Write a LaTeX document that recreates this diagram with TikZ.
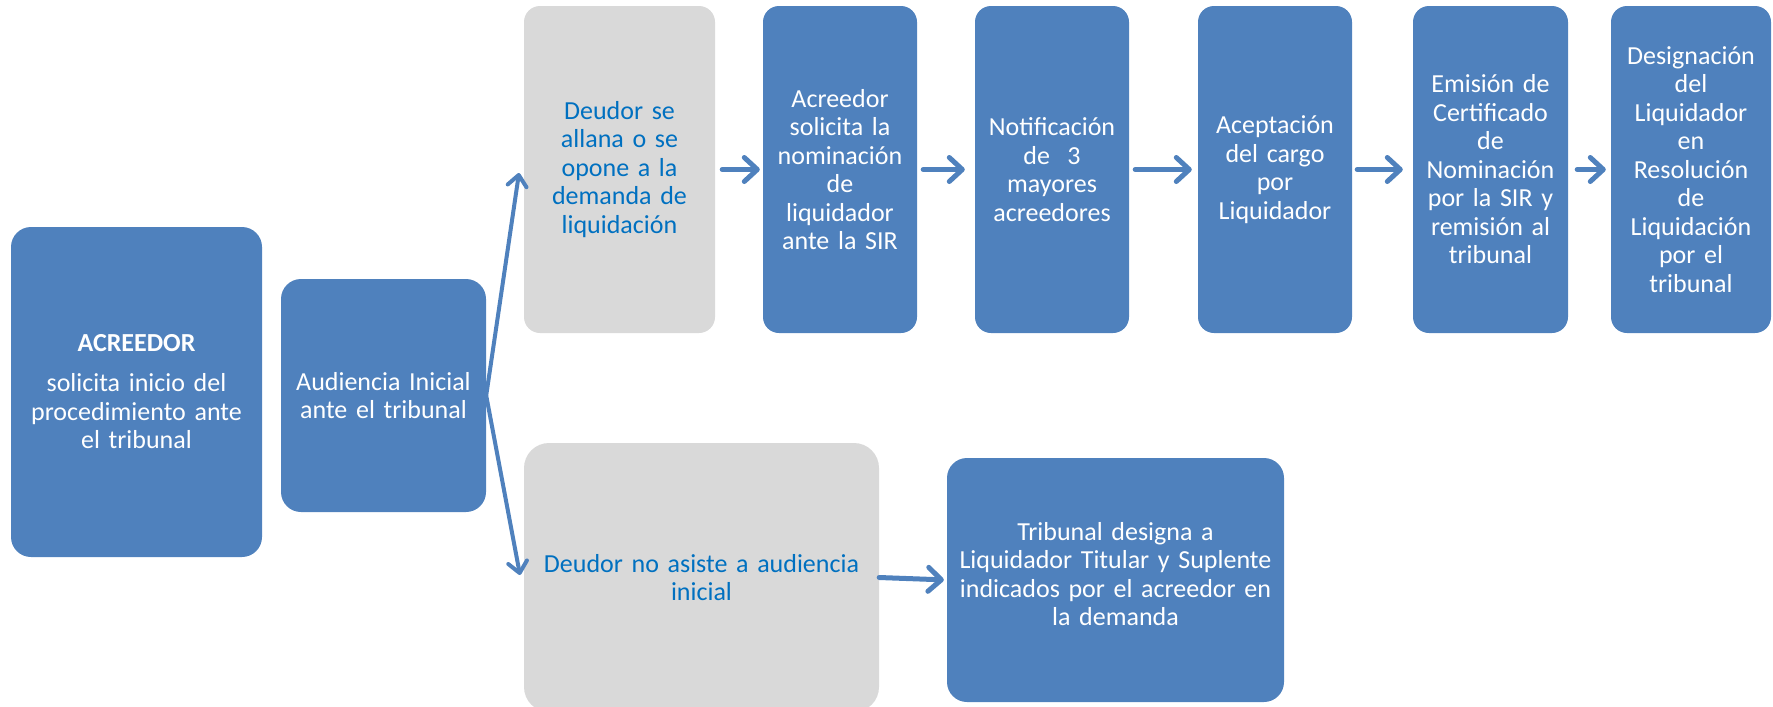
\documentclass[tikz,border=0pt]{standalone}
\usepackage{fontspec}
\setmainfont{Carlito}
\usetikzlibrary{arrows.meta}
\definecolor{boxblue}{HTML}{4F81BD}
\definecolor{boxgray}{HTML}{D9D9D9}
\definecolor{txtblue}{HTML}{0070C0}
\tikzset{
  basebox/.style={inner sep=0pt, align=center, font=\fontsize{26}{28.5}\selectfont},
  bluebox/.style={basebox, fill=boxblue, text=white},
  graybox/.style={basebox, fill=boxgray, text=txtblue},
  toprow/.style={minimum height=327pt, rounded corners=16pt},
  harrow/.style={draw=boxblue, line width=5pt, line cap=round,
    -{Straight Barb[length=13pt,width=24pt,round]}},
  barrow/.style={draw=boxblue, line width=4pt, line cap=round,
    -{Straight Barb[length=11pt,width=19pt,round]}}
}
\begin{document}
\begin{tikzpicture}[x=1pt,y=-1pt]
\useasboundingbox (0,0) rectangle (1773,707);
\clip (0,0) rectangle (1773,707);
% left column
\node[bluebox, rounded corners=20pt, minimum width=251pt, minimum height=330pt, text width=244pt]
  (acr) at (136.5,392) {\textbf{ACREEDOR}\\[11.5pt]solicita inicio del\\procedimiento ante\\el tribunal};
\node[bluebox, rounded corners=20pt, minimum width=205pt, minimum height=233pt, text width=200pt]
  (aud) at (383.5,395.5) {Audiencia Inicial\\ante el tribunal};
% top row
\node[graybox, toprow, minimum width=191pt, text width=184pt]
  (g1) at (619.5,169.5) {Deudor se\\allana o se\\opone a la\\demanda de\\liquidación};
\node[bluebox, toprow, minimum width=154pt, text width=152pt]
  (b2) at (840,169.5) {Acreedor\\solicita la\\nominación\\de\\liquidador\\ante la SIR};
\node[bluebox, toprow, minimum width=154pt, text width=152pt]
  (b3) at (1052,169.5) {Notificación\\de\ \ 3\\mayores\\acreedores};
\node[bluebox, toprow, minimum width=154pt, text width=152pt]
  (b4) at (1275,169.5) {Aceptación\\del cargo\\por\\Liquidador};
\node[bluebox, toprow, minimum width=155pt, text width=152pt]
  (b5) at (1490.5,169.5) {Emisión de\\Certificado\\de\\Nominación\\por la SIR y\\remisión al\\tribunal};
\node[bluebox, toprow, minimum width=160pt, text width=158pt]
  (b6) at (1691,169.5) {Designación\\del\\Liquidador\\en\\Resolución\\de\\Liquidación\\por el\\tribunal};
% bottom row
\node[graybox, rounded corners=25pt, minimum width=355pt, minimum height=269pt, text width=348pt]
  (g2) at (701.5,577.5) {Deudor no asiste a audiencia\\inicial};
\node[bluebox, rounded corners=20pt, minimum width=337pt, minimum height=244pt, text width=332pt]
  (tr) at (1115.5,580) {Tribunal designa a\\Liquidador Titular y Suplente\\indicados por el acreedor en\\la demanda\par\vspace*{12pt}};
% connectors
\coordinate (t1) at (519,173);
\coordinate (t2) at (520,575);
\draw[barrow] (aud.east) -- (t1);
\draw[barrow] (aud.east) -- (t2);
\draw[harrow, shorten <=7pt, shorten >=3pt] (g1.east) -- (b2.west);
\draw[harrow, shorten <=6pt, shorten >=10pt] (b2.east) -- (b3.west);
\draw[harrow, shorten <=6pt, shorten >=6pt] (b3.east) -- (b4.west);
\draw[harrow, shorten <=5pt, shorten >=10pt] (b4.east) -- (b5.west);
\draw[harrow, shorten <=9pt, shorten >=5pt] (b5.east) -- (b6.west);
\draw[harrow, shorten >=3pt] (g2.east) -- (tr.west);
\end{tikzpicture}
\end{document}
